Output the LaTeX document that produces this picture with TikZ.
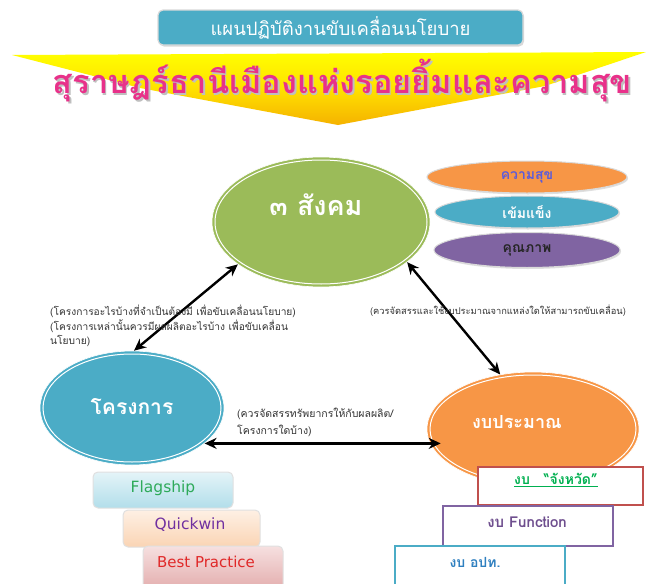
\documentclass[tikz,border=0pt]{standalone}
\usepackage{fontspec}
\newfontfamily\thai[Script=Thai]{Loma}
\newfontfamily\lat{DejaVu Sans}
\usetikzlibrary{shapes.geometric,arrows.meta,shadows}
\definecolor{tealA}{HTML}{4BACC6}
\definecolor{greenA}{HTML}{9BBB59}
\definecolor{orangeA}{HTML}{F79646}
\definecolor{purpleA}{HTML}{8064A2}
\definecolor{redA}{HTML}{C0504D}
\definecolor{pinkA}{HTML}{E8318A}
\definecolor{textgreen}{HTML}{00B050}
\definecolor{textblue}{HTML}{5B5BDB}
\definecolor{textpurple}{HTML}{6E4E8E}
\definecolor{textcyan}{HTML}{2F80C0}
\tikzset{
  bigell/.style={ellipse, inner sep=0pt, draw=white, line width=0.6pt},
  smallell/.style={ellipse, inner sep=0pt, draw=black!15, line width=1pt,
     drop shadow={opacity=0.25, shadow xshift=1pt, shadow yshift=-1.5pt}},
  ring/.style={draw=white, line width=1pt},
  conn/.style={<->, >={Stealth[length=12pt,width=11pt]}, line width=2.4pt, black},
  lbl/.style={font=\thai\fontsize{10.2}{14.5}\selectfont, text=black!80, align=left, inner sep=0pt},
  leftbox/.style={rounded corners=5pt, draw=black!12, line width=1pt},
  rightbox/.style={draw, line width=2pt, fill=white},
}
\begin{document}
\begin{tikzpicture}[x=1pt,y=-1pt]
\useasboundingbox (0,0) rectangle (649,584);
\fill[white] (0,0) rectangle (649,584);
% yellow arrow banner
\shade[top color=yellow, bottom color={rgb,255:red,245;green,178;blue,0}, middle color={rgb,255:red,255;green,225;blue,0}]
  (12,55) -- (646,52) -- (545,86) -- (338,125) -- (140,88) -- cycle;
% top title box
\node[draw=black!15, line width=1.2pt, fill=tealA, rounded corners=5pt, minimum width=365pt, minimum height=35pt,
      drop shadow={opacity=0.3, shadow xshift=1pt, shadow yshift=-1.5pt},
      font=\thai\fontsize{18.5}{20}\selectfont, text=white] (title) at (340.5,27.5) {แผนปฏิบัติงานขับเคลื่อนนโยบาย};
% pink slogan
\node[font=\thai\bfseries\fontsize{32.5}{34}\selectfont, text=black!25] at (344,82.5) {สุราษฎร์ธานีเมืองแห่งรอยยิ้มและความสุข};
\node[font=\thai\bfseries\fontsize{32.5}{34}\selectfont, text=pinkA] (slogan) at (342.5,81) {สุราษฎร์ธานีเมืองแห่งรอยยิ้มและความสุข};
% big ellipses
\node[bigell, fill=greenA, minimum width=218pt, minimum height=130pt] (g) at (321,222) {};
\draw[ring] (g.center) ellipse [x radius=106pt, y radius=62pt];
\node[font=\thai\bfseries\fontsize{27}{30}\selectfont, text=white] (gt) at (316,205) {๓ สังคม};

\node[bigell, fill=tealA, minimum width=184pt, minimum height=114pt] (b) at (132,408) {};
\draw[ring] (b.center) ellipse [x radius=89pt, y radius=54pt];
\node[font=\thai\bfseries\fontsize{21}{24}\selectfont, text=white] (bt) at (132,407) {โครงการ};

\node[bigell, fill=orangeA, minimum width=212pt, minimum height=114pt] (o) at (533,429) {};
\draw[ring] (o.center) ellipse [x radius=103pt, y radius=54pt];
\node[font=\thai\bfseries\fontsize{18}{22}\selectfont, text=white] (ot) at (517,422) {งบประมาณ};

% small ellipses
\node[smallell, fill=orangeA, minimum width=200pt, minimum height=32pt,
      font=\thai\bfseries\fontsize{14}{16}\selectfont, text=textblue] (s1) at (527,177) {ความสุข};
\node[smallell, fill=tealA, minimum width=184pt, minimum height=32pt,
      font=\thai\bfseries\fontsize{14}{16}\selectfont, text=white] (s2) at (527,212) {เข้มแข็ง};
\node[smallell, fill=purpleA, minimum width=186pt, minimum height=35pt,
      font=\thai\bfseries\fontsize{14}{16}\selectfont, text=black!85] (s3) at (527,250) {คุณภาพ};

% connectors
\draw[conn] (g.207) -- (b.88);
\draw[conn] (g.335) -- (o.121);
\draw[conn, shorten >=-14pt] (b.334) -- (b.334 -| o.west);

% labels
\node[lbl, anchor=north west] (l1) at (50,305) {(โครงการอะไรบ้างที่จำเป็นต้องมี เพื่อขับเคลื่อนนโยบาย)\\(โครงการเหล่านั้นควรมีผลผลิตอะไรบ้าง เพื่อขับเคลื่อน\\นโยบาย)};
\node[lbl, font=\thai\fontsize{9.3}{10}\selectfont] (l2) at (498,311) {(ควรจัดสรรและใช้งบประมาณจากแหล่งใดให้สามารถขับเคลื่อน)};
\node[lbl, anchor=north west, font=\thai\fontsize{10.5}{17}\selectfont] (l3) at (237,408) {(ควรจัดสรรทรัพยากรให้กับผลผลิต/\\โครงการใดบ้าง)};

% left boxes
\shade[leftbox, top color={rgb,255:red,228;green,244;blue,248}, bottom color={rgb,255:red,178;green,222;blue,234}] (93,472) rectangle (233,508);
\node[font=\lat\fontsize{15.5}{17}\selectfont, text={rgb,255:red,46;green,170;blue,90}] (f1) at (163,488) {Flagship};
\shade[leftbox, top color={rgb,255:red,254;green,240;blue,228}, bottom color={rgb,255:red,250;green,212;blue,180}] (123,510) rectangle (260,547);
\node[font=\lat\fontsize{15.5}{17}\selectfont, text={rgb,255:red,112;green,48;blue,160}] (f2) at (190,525) {Quickwin};
\shade[leftbox, top color={rgb,255:red,246;green,224;blue,224}, bottom color={rgb,255:red,226;green,170;blue,170}] (143,546) rectangle (283,592);
\node[font=\lat\fontsize{15}{17}\selectfont, text={rgb,255:red,224;green,40;blue,40}] (f3) at (206,562) {Best Practice};

% right boxes
\draw[rightbox, draw=redA] (478,467) rectangle (643,505);
\node[font=\thai\bfseries\fontsize{14}{16}\selectfont, text=textgreen] (r1) at (556,480) {\underline{งบ\quad “จังหวัด”}};
\draw[rightbox, draw=purpleA] (443,506) rectangle (613,546);
\node[font=\thai\bfseries\fontsize{15}{17}\selectfont, text=textpurple] (r2) at (527,522) {งบ Function};
\draw[rightbox, draw=tealA] (395,546) rectangle (565,592);
\node[font=\thai\bfseries\fontsize{14}{16}\selectfont, text=textcyan] (r3) at (475,562) {งบ อปท.};
\end{tikzpicture}
\end{document}
